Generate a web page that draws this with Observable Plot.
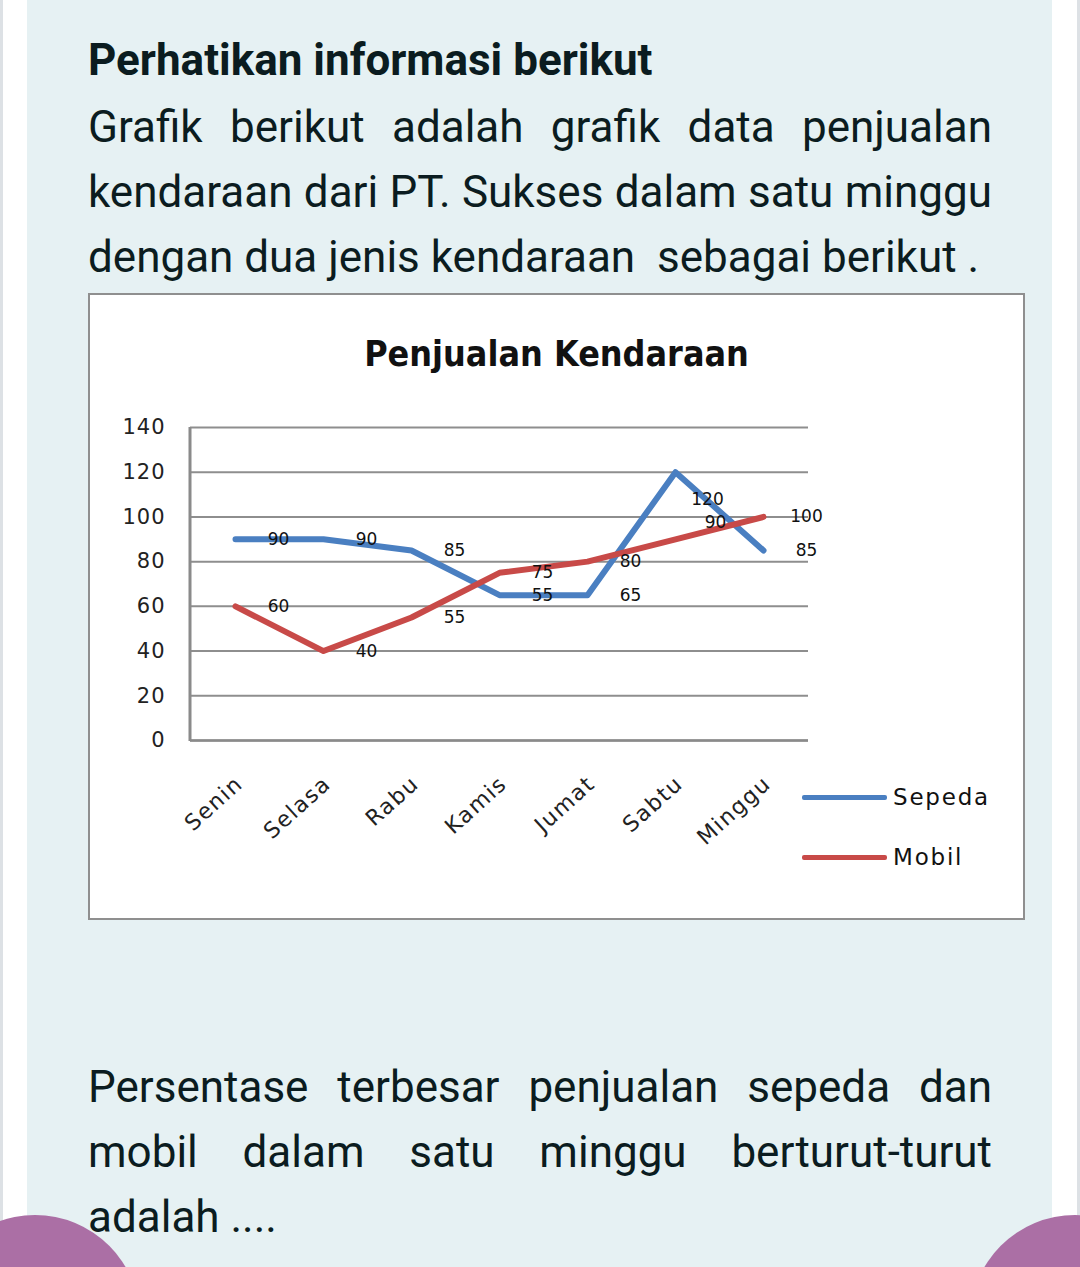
<!DOCTYPE html>
<html>
<head>
<meta charset="utf-8">
<script src="https://cdn.jsdelivr.net/npm/d3@7"></script>
<script src="https://cdn.jsdelivr.net/npm/@observablehq/plot@0.6"></script>
<style>
  html, body { margin: 0; padding: 0; width: 1080px; height: 1267px; overflow: hidden; background: #fff; }
  .strip { position: absolute; top: 0; height: 1267px; width: 3px; background: #dde1e5; }
  #panel { position: absolute; left: 27px; top: 0; width: 1025px; height: 1267px; background: #e6f1f3; }
  .txt { position: absolute; left: 88px; width: 904px; font-family: Roboto, "Noto Sans", sans-serif; color: #0b1c20; }
  .line { height: 65px; line-height: 65px; font-size: 44px; white-space: nowrap; }
  .just { text-align: justify; text-align-last: justify; }
  #chartbox { position: absolute; left: 88px; top: 293px; width: 937px; height: 627px; box-sizing: border-box;
              border: 2px solid #8f8f8f; background: #fff; }
  #ctitle { position: absolute; left: 0; width: 100%; top: 39px; text-align: center; font-family: "DejaVu Sans", sans-serif;
            font-weight: bold; font-size: 32px; line-height: 40px; color: #111; transform: scaleY(1.12); }
  #plot { position: absolute; left: 0; top: 95px; }
  #plot svg g[aria-label="x-axis tick label"] text { letter-spacing: 1.5px; }
  #plot svg g[aria-label="y-axis tick label"] text { letter-spacing: 1px; }
  .leg { position: absolute; left: 712px; width: 85px; height: 5px; border-radius: 2px; }
  .legt { position: absolute; left: 803px; font-family: "DejaVu Sans", sans-serif; font-size: 23px; letter-spacing: 1.8px; color: #111; line-height: 26px; }
  .blob { position: absolute; width: 210px; height: 210px; border-radius: 50%; background: #ab6fa5; }
</style>
</head>
<body>
<div class="strip" style="left:0"></div>
<div class="strip" style="left:1077px"></div>
<div id="panel"></div>

<div class="txt" style="top:35px;font-weight:bold;font-size:44px;line-height:50px;">Perhatikan informasi berikut</div>
<div class="txt" style="top:95px;">
  <div class="line just">Grafik berikut adalah grafik data penjualan</div>
  <div class="line just">kendaraan dari PT. Sukses dalam satu minggu</div>
  <div class="line">dengan dua jenis kendaraan&nbsp; sebagai berikut .</div>
</div>

<div id="chartbox">
  <div id="ctitle">Penjualan Kendaraan</div>
  <div id="plot"></div>
  <div class="leg" style="top:500px;background:#4a7fc1"></div>
  <div class="legt" style="top:489px">Sepeda</div>
  <div class="leg" style="top:560px;background:#c84a48"></div>
  <div class="legt" style="top:549px">Mobil</div>
</div>

<div class="txt" style="top:1055px;">
  <div class="line just">Persentase terbesar penjualan sepeda dan</div>
  <div class="line just">mobil dalam satu minggu berturut-turut</div>
  <div class="line">adalah ....</div>
</div>

<div class="blob" style="left:-70px;top:1215px"></div>
<div class="blob" style="left:970px;top:1215px"></div>

<script>
const days = ["Senin", "Selasa", "Rabu", "Kamis", "Jumat", "Sabtu", "Minggu"];
const sepeda = [90, 90, 85, 65, 65, 120, 85];
const mobil = [60, 40, 55, 75, 80, 90, 100];
const sepedaLabels = ["90", "90", "85", "55", "65", "120", "85"];
const mobilLabels = ["60", "40", "55", "75", "80", "90", "100"];
const yTicks = [0, 20, 40, 60, 80, 100, 120, 140];
const seriesNames = ["Sepeda", "Mobil"];
const seriesColors = ["#4a7fc1", "#c84a48"];

const rows = [];
days.forEach((d, i) => {
  rows.push({day: d, series: "Sepeda", value: sepeda[i], label: sepedaLabels[i]});
  rows.push({day: d, series: "Mobil", value: mobil[i], label: mobilLabels[i]});
});

const leftAxisLine = (index, scales, values, dim) => {
  const g = d3.create("svg:g");
  g.append("line")
    .attr("x1", dim.marginLeft).attr("x2", dim.marginLeft)
    .attr("y1", scales.y(140)).attr("y2", scales.y(0) + 1)
    .attr("stroke", "#8a8a8a").attr("stroke-width", 3);
  return g.node();
};

const chart = Plot.plot({
  width: 933,
  height: 520,
  marginLeft: 100,
  marginRight: 215,
  marginTop: 37,
  marginBottom: 170,
  style: {fontFamily: "DejaVu Sans, sans-serif", fontSize: "15px", color: "#222", background: "transparent"},
  x: {type: "point", domain: days, padding: 0.5},
  y: {domain: [0, 140]},
  color: {domain: seriesNames, range: seriesColors},
  marks: [
    Plot.gridY(yTicks, {stroke: "#8e8e8e", strokeOpacity: 1, strokeWidth: 2}),
    Plot.ruleY([0], {stroke: "#8a8a8a", strokeWidth: 2.5}),
    leftAxisLine,
    Plot.axisY(yTicks, {tickSize: 0, tickPadding: 25, fontSize: 21, label: null, fill: "#222"}),
    Plot.axisX({tickSize: 0, tickRotate: -42, tickPadding: 40, fontSize: 22, label: null, fill: "#222", dx: 4}),
    Plot.line(rows, {x: "day", y: "value", z: "series", stroke: "series", strokeWidth: 6, strokeLinejoin: "round"}),
    Plot.text(rows, {filter: d => d.day !== "Sabtu", x: "day", y: "value", text: "label", dx: 43, fontSize: 17, fill: "#111"}),
    Plot.text(rows, {filter: d => d.day === "Sabtu" && d.series === "Sepeda", x: "day", y: "value", text: "label", dx: 32, dy: 27, fontSize: 17, fill: "#111"}),
    Plot.text(rows, {filter: d => d.day === "Sabtu" && d.series === "Mobil", x: "day", y: "value", text: "label", dx: 40, dy: -17, fontSize: 17, fill: "#111"})
  ]
});
document.getElementById("plot").appendChild(chart);
</script>
</body>
</html>
